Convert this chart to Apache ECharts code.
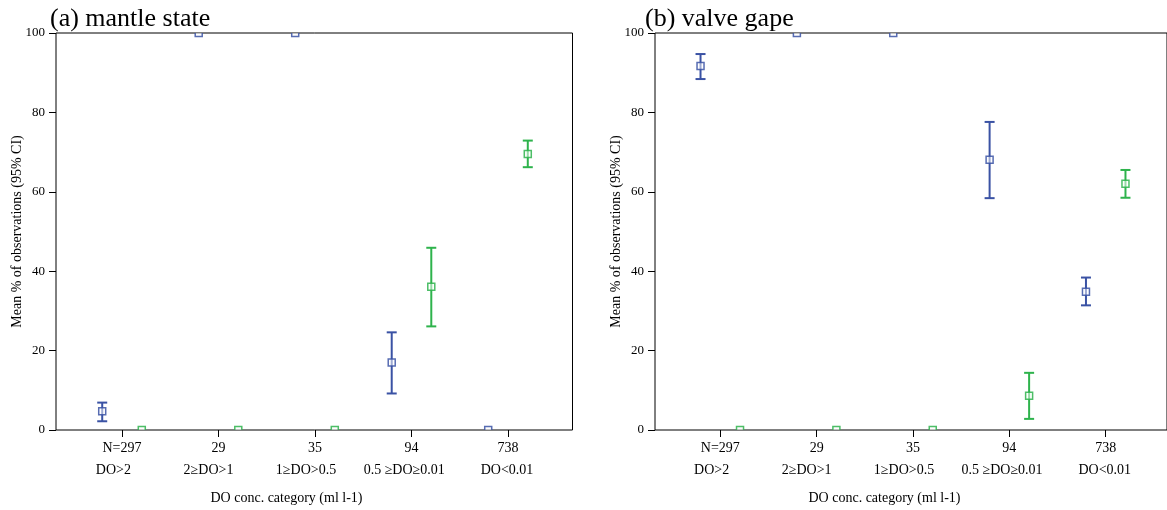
<!DOCTYPE html>
<html>
<head>
<meta charset="utf-8">
<script src="https://cdn.jsdelivr.net/npm/echarts@6/dist/echarts.min.js"></script>
<style>html,body{margin:0;padding:0;background:#fff}#c{width:1167px;height:510px}</style>
</head>
<body>
<div id="c"></div>
<script>
// ---- data ----
const categories = ['N=297', '29', '35', '94', '738'];
const doClasses = ['DO>2', '2≥DO>1', '1≥DO>0.5', '0.5 ≥DO≥0.01', 'DO<0.01'];
const yTicks = [0, 20, 40, 60, 80, 100];

// (a) mantle state
const mantleBlueMean  = [4.7, 100, 100, 17.0, 0];
const mantleBlueLow   = [2.2, null, null, 9.2, null];
const mantleBlueHigh  = [6.9, null, null, 24.6, null];
const mantleGreenMean = [0, 0, 0, 36.1, 69.5];
const mantleGreenLow  = [null, null, null, 26.1, 66.2];
const mantleGreenHigh = [null, null, null, 45.9, 72.9];

// (b) valve gape
const valveBlueMean  = [91.7, 100, 100, 68.1, 34.8];
const valveBlueLow   = [88.4, null, null, 58.4, 31.4];
const valveBlueHigh  = [94.7, null, null, 77.6, 38.4];
const valveGreenMean = [0, 0, 0, 8.6, 62.0];
const valveGreenLow  = [null, null, null, 2.8, 58.5];
const valveGreenHigh = [null, null, null, 14.4, 65.5];

// ---- style ----
const FONT = 'Liberation Serif';
const BLUE = '#3a52a4';
const GREEN = '#2eb34c';
const labelShift = [8.6, 10, 9, 7.3, 1];

function rows(mean, lo, hi) {
  return mean.map((m, i) => [i, m, lo[i] == null ? '-' : lo[i], hi[i] == null ? '-' : hi[i]]);
}

function makeRender(color, offsetFrac) {
  return function (params, api) {
    const idx = api.value(0), mean = api.value(1), lo = api.value(2), hi = api.value(3);
    const bw = api.size([1, 0])[0];
    const c = api.coord([idx, mean]);
    const x = c[0] + offsetFrac * bw;
    const children = [];
    if (!isNaN(lo) && !isNaN(hi)) {
      const yl = api.coord([idx, lo])[1];
      const yh = api.coord([idx, hi])[1];
      const ls = { stroke: color, lineWidth: 2 };
      children.push({ type: 'line', shape: { x1: x, y1: yh, x2: x, y2: yl }, style: ls });
      children.push({ type: 'line', shape: { x1: x - 5, y1: yh, x2: x + 5, y2: yh }, style: ls });
      children.push({ type: 'line', shape: { x1: x - 5, y1: yl, x2: x + 5, y2: yl }, style: ls });
    }
    children.push({
      type: 'rect',
      shape: { x: x - 3.5, y: c[1] - 3.5, width: 7, height: 7 },
      style: { fill: 'rgba(255,255,255,0.6)', stroke: color, lineWidth: 1.5, opacity: 0.85 }
    });
    return { type: 'group', children };
  };
}

const rich = { a: { fontFamily: FONT, fontSize: 14, lineHeight: 22, color: '#000' } };
labelShift.forEach((s, i) => {
  rich['s' + i] = { fontFamily: FONT, fontSize: 14, lineHeight: 22, color: '#000', padding: [0, 2 * s, 0, 0] };
});

const panels = [
  { boxLeft: 56, boxRight: 1167 - 572.5, dataLeft: 73.75, dataRight: 1167 - 556.25,
    blue: rows(mantleBlueMean, mantleBlueLow, mantleBlueHigh),
    green: rows(mantleGreenMean, mantleGreenLow, mantleGreenHigh) },
  { boxLeft: 655, boxRight: -4, dataLeft: 672.1, dataRight: 1167 - 1153.9,
    blue: rows(valveBlueMean, valveBlueLow, valveBlueHigh),
    green: rows(valveGreenMean, valveGreenLow, valveGreenHigh) }
];

const grid = [], xAxis = [], yAxis = [], series = [];
panels.forEach((p, k) => {
  const gBox = grid.length;
  grid.push({ left: p.boxLeft, right: p.boxRight, top: 33, bottom: 80, show: true,
              borderColor: '#000', borderWidth: 1, backgroundColor: 'transparent' });
  xAxis.push({ gridIndex: gBox, type: 'value', show: false, min: 0, max: 1 });
  yAxis.push({ gridIndex: gBox, type: 'value', min: yTicks[0], max: yTicks[yTicks.length - 1], interval: 20,
    axisLine: { show: false }, splitLine: { show: false },
    axisTick: { show: true, inside: false, length: 7, lineStyle: { color: '#000', width: 1 } },
    axisLabel: { fontFamily: FONT, fontSize: 13, color: '#000', margin: 11 },
    name: 'Mean % of observations (95% CI)', nameLocation: 'middle', nameGap: 32, nameMoveOverlap: false,
    nameTextStyle: { fontFamily: FONT, fontSize: 14, color: '#000' } });

  const gData = grid.length;
  grid.push({ left: p.dataLeft, right: p.dataRight, top: 33, bottom: 80 });
  xAxis.push({ gridIndex: gData, type: 'category', data: categories, boundaryGap: true,
    axisLine: { show: false },
    axisTick: { show: true, alignWithLabel: true, length: 7, lineStyle: { color: '#000', width: 1 } },
    axisLabel: { interval: 0, margin: 7,
      formatter: (v, i) => '{a|' + v + '}\n{s' + i + '|' + doClasses[i] + '}', rich: rich } });
  yAxis.push({ gridIndex: gData, type: 'value', min: 0, max: 100, show: false });

  series.push({ type: 'custom', xAxisIndex: gData, yAxisIndex: gData, clip: true,
    renderItem: makeRender(BLUE, -0.205), data: p.blue, encode: { x: 0, y: 1 }, z: 3 });
  series.push({ type: 'custom', xAxisIndex: gData, yAxisIndex: gData, clip: true,
    renderItem: makeRender(GREEN, 0.205), data: p.green, encode: { x: 0, y: 1 }, z: 3 });
});

const chart = echarts.init(document.getElementById('c'), null, { renderer: 'canvas' });
chart.setOption({
  animation: false,
  backgroundColor: '#fff',
  grid, xAxis, yAxis, series,
  graphic: [
    { type: 'text', x: 50, y: 19, style: { text: '(a) mantle state', fontFamily: FONT, fontSize: 26,
      fill: '#000', textAlign: 'left', textVerticalAlign: 'middle' } },
    { type: 'text', x: 645, y: 19, style: { text: '(b) valve gape', fontFamily: FONT, fontSize: 26,
      fill: '#000', textAlign: 'left', textVerticalAlign: 'middle' } },
    { type: 'text', x: 286.5, y: 498, style: { text: 'DO conc. category (ml l-1)', fontFamily: FONT, fontSize: 14,
      fill: '#000', textAlign: 'center', textVerticalAlign: 'middle' } },
    { type: 'text', x: 884.5, y: 498, style: { text: 'DO conc. category (ml l-1)', fontFamily: FONT, fontSize: 14,
      fill: '#000', textAlign: 'center', textVerticalAlign: 'middle' } }
  ]
});
</script>
</body>
</html>
